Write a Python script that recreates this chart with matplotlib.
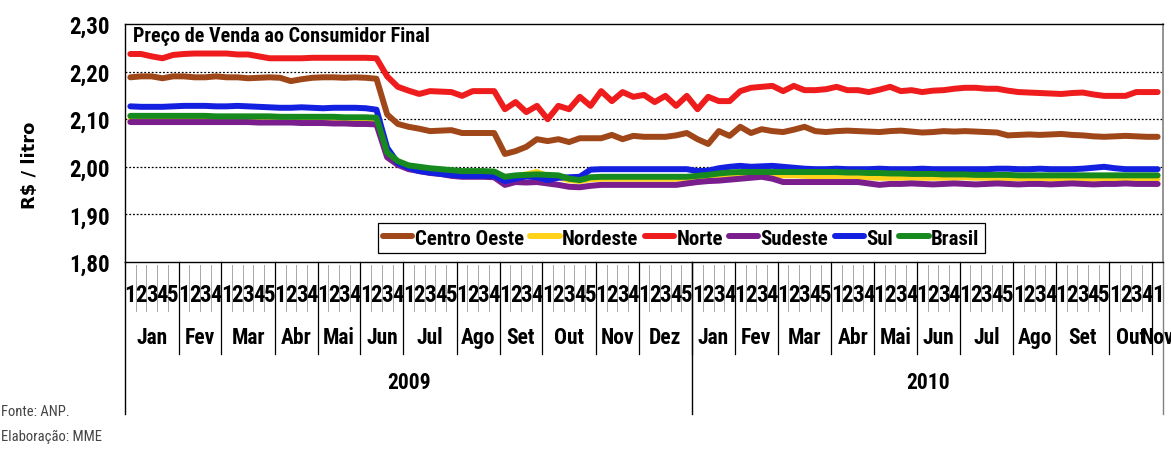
import matplotlib
matplotlib.use("Agg")
import matplotlib.pyplot as plt
import matplotlib.transforms as mtransforms
from matplotlib import font_manager as fm
import numpy as np

# ---------- pick a narrow font if one is installed ----------
_entries = fm.fontManager.ttflist
_names = {f.name for f in _entries}
_pref = ['Liberation Sans Narrow', 'Arial Narrow', 'Roboto Condensed', 'Noto Sans Condensed',
         'Open Sans Condensed', 'DejaVu Sans Condensed', 'Noto Sans Display Condensed']
NARROW_NAME = None
NARROW_STRETCH = 'normal'
for p in _pref:
    if p in _names:
        NARROW_NAME = p
        break
if NARROW_NAME is None:
    cands = [f.name for f in _entries if ('Narrow' in f.name or 'Condensed' in f.name)
             and 'Mono' not in f.name and 'Serif' not in f.name]
    if cands:
        NARROW_NAME = sorted(cands)[0]
if NARROW_NAME is None:
    for f in _entries:
        st = str(f.stretch).lower()
        if st in ('condensed', 'semi-condensed', 'extra-condensed') or st in ('500', '400', '300'):
            if 'Mono' in f.name or 'Serif' in f.name or 'CJK' in f.name:
                continue
            if str(f.weight).lower() in ('bold', '700'):
                NARROW_NAME = f.name
                NARROW_STRETCH = 'condensed'
                break
if NARROW_NAME is None:
    NARROW_NAME = 'Liberation Sans'
    SCALE = 0.85
else:
    SCALE = 1.0
NARROW = [NARROW_NAME, 'Liberation Sans', 'DejaVu Sans']


def fs(v):
    return v * SCALE


# ---------------- data ----------------
months_2009 = ['Jan', 'Fev', 'Mar', 'Abr', 'Mai', 'Jun', 'Jul', 'Ago', 'Set', 'Out', 'Nov', 'Dez']
weeks_2009 = [5, 4, 5, 4, 4, 4, 5, 4, 4, 5, 4, 5]
months_2010 = ['Jan', 'Fev', 'Mar', 'Abr', 'Mai', 'Jun', 'Jul', 'Ago', 'Set', 'Out', 'Nov']
weeks_2010 = [4, 4, 5, 4, 4, 4, 5, 4, 5, 4, 1]
years = ['2009', '2010']

centro_oeste = [2.188, 2.190, 2.190, 2.186, 2.190, 2.190, 2.188, 2.188, 2.190, 2.188,
                2.188, 2.186, 2.187, 2.188, 2.187, 2.180, 2.184, 2.187, 2.188, 2.188,
                2.187, 2.188, 2.187, 2.185, 2.110, 2.090, 2.084, 2.080, 2.075, 2.076,
                2.077, 2.071, 2.071, 2.071, 2.071, 2.027, 2.033, 2.042, 2.058, 2.054,
                2.058, 2.052, 2.060, 2.060, 2.060, 2.067, 2.058, 2.065, 2.063, 2.063,
                2.063, 2.066, 2.071, 2.058, 2.048, 2.075, 2.065, 2.084, 2.071, 2.079,
                2.075, 2.073, 2.078, 2.084, 2.075, 2.073, 2.075, 2.076, 2.075, 2.074,
                2.073, 2.075, 2.076, 2.074, 2.072, 2.073, 2.075, 2.074, 2.075, 2.074,
                2.073, 2.072, 2.066, 2.067, 2.068, 2.067, 2.068, 2.069, 2.067, 2.066,
                2.064, 2.063, 2.064, 2.065, 2.064, 2.063, 2.063]

nordeste = [2.099, 2.099, 2.099, 2.099, 2.099, 2.099, 2.099, 2.099, 2.099, 2.099,
            2.099, 2.099, 2.099, 2.098, 2.098, 2.098, 2.098, 2.098, 2.098, 2.097,
            2.097, 2.097, 2.097, 2.096, 2.025, 2.008, 2.000, 1.996, 1.993, 1.991,
            1.989, 1.987, 1.987, 1.987, 1.986, 1.977, 1.980, 1.984, 1.989, 1.980,
            1.978, 1.972, 1.970, 1.974, 1.975, 1.975, 1.975, 1.975, 1.975, 1.975,
            1.975, 1.975, 1.976, 1.977, 1.978, 1.980, 1.981, 1.982, 1.982, 1.982,
            1.982, 1.982, 1.982, 1.981, 1.980, 1.979, 1.979, 1.978, 1.978, 1.978,
            1.977, 1.977, 1.977, 1.977, 1.977, 1.977, 1.977, 1.977, 1.978, 1.977,
            1.977, 1.976, 1.976, 1.976, 1.976, 1.976, 1.975, 1.975, 1.975, 1.975,
            1.975, 1.975, 1.975, 1.975, 1.975, 1.975, 1.975]

norte = [2.237, 2.237, 2.232, 2.228, 2.235, 2.237, 2.238, 2.238, 2.238, 2.238,
         2.236, 2.236, 2.232, 2.228, 2.228, 2.228, 2.228, 2.229, 2.229, 2.229,
         2.229, 2.229, 2.229, 2.228, 2.190, 2.168, 2.160, 2.153, 2.159, 2.158,
         2.157, 2.149, 2.159, 2.159, 2.159, 2.121, 2.136, 2.115, 2.128, 2.100,
         2.128, 2.121, 2.147, 2.128, 2.159, 2.138, 2.157, 2.147, 2.151, 2.136,
         2.149, 2.128, 2.149, 2.121, 2.147, 2.138, 2.138, 2.159, 2.166, 2.168,
         2.170, 2.159, 2.170, 2.161, 2.161, 2.163, 2.168, 2.161, 2.161, 2.157,
         2.162, 2.168, 2.159, 2.161, 2.157, 2.160, 2.161, 2.164, 2.166, 2.166,
         2.164, 2.164, 2.160, 2.157, 2.156, 2.155, 2.154, 2.153, 2.155, 2.156,
         2.152, 2.149, 2.149, 2.149, 2.157, 2.157, 2.157]

sudeste = [2.094, 2.094, 2.094, 2.094, 2.094, 2.094, 2.094, 2.094, 2.094, 2.094,
           2.094, 2.094, 2.093, 2.093, 2.093, 2.093, 2.092, 2.092, 2.092, 2.091,
           2.091, 2.090, 2.090, 2.089, 2.020, 2.004, 1.995, 1.991, 1.987, 1.985,
           1.981, 1.979, 1.979, 1.979, 1.978, 1.962, 1.968, 1.967, 1.968, 1.965,
           1.962, 1.958, 1.957, 1.960, 1.962, 1.962, 1.962, 1.962, 1.962, 1.962,
           1.962, 1.962, 1.965, 1.968, 1.970, 1.971, 1.973, 1.975, 1.977, 1.979,
           1.975, 1.968, 1.968, 1.968, 1.968, 1.968, 1.968, 1.968, 1.968, 1.965,
           1.962, 1.964, 1.964, 1.965, 1.964, 1.963, 1.964, 1.965, 1.964, 1.963,
           1.964, 1.965, 1.964, 1.963, 1.964, 1.964, 1.963, 1.964, 1.965, 1.964,
           1.963, 1.964, 1.964, 1.965, 1.964, 1.964, 1.964]

sul = [2.127, 2.126, 2.126, 2.126, 2.127, 2.128, 2.128, 2.128, 2.127, 2.127,
       2.128, 2.127, 2.126, 2.125, 2.124, 2.124, 2.125, 2.124, 2.123, 2.124,
       2.124, 2.124, 2.123, 2.120, 2.040, 2.008, 1.998, 1.991, 1.988, 1.985,
       1.983, 1.981, 1.981, 1.981, 1.981, 1.970, 1.975, 1.980, 1.978, 1.972,
       1.977, 1.978, 1.979, 1.994, 1.995, 1.995, 1.995, 1.995, 1.995, 1.995,
       1.995, 1.995, 1.995, 1.991, 1.992, 1.997, 2.000, 2.002, 2.000, 2.001,
       2.002, 2.000, 1.998, 1.996, 1.995, 1.995, 1.996, 1.995, 1.995, 1.995,
       1.996, 1.995, 1.995, 1.995, 1.996, 1.995, 1.995, 1.995, 1.995, 1.995,
       1.995, 1.996, 1.996, 1.995, 1.995, 1.996, 1.995, 1.995, 1.995, 1.996,
       1.998, 2.000, 1.997, 1.995, 1.995, 1.995, 1.995]

brasil = [2.107, 2.107, 2.107, 2.107, 2.107, 2.107, 2.107, 2.107, 2.106, 2.106,
          2.106, 2.106, 2.106, 2.106, 2.105, 2.105, 2.105, 2.105, 2.105, 2.105,
          2.104, 2.104, 2.104, 2.103, 2.030, 2.012, 2.003, 2.000, 1.997, 1.995,
          1.993, 1.991, 1.991, 1.991, 1.990, 1.979, 1.982, 1.983, 1.984, 1.983,
          1.982, 1.975, 1.972, 1.978, 1.979, 1.979, 1.979, 1.979, 1.979, 1.979,
          1.979, 1.979, 1.979, 1.981, 1.983, 1.986, 1.988, 1.989, 1.989, 1.989,
          1.989, 1.989, 1.989, 1.989, 1.989, 1.989, 1.989, 1.988, 1.988, 1.987,
          1.987, 1.986, 1.986, 1.985, 1.985, 1.985, 1.984, 1.984, 1.984, 1.983,
          1.983, 1.983, 1.983, 1.982, 1.982, 1.982, 1.982, 1.982, 1.982, 1.982,
          1.982, 1.982, 1.982, 1.982, 1.982, 1.982, 1.982]

series_names = ['Centro Oeste', 'Nordeste', 'Norte', 'Sudeste', 'Sul', 'Brasil']
series_values = [centro_oeste, nordeste, norte, sudeste, sul, brasil]
series_colors = ['#A0471A', '#FFD21A', '#EE1C1C', '#7A1E8E', '#1420E0', '#168A1E']

yticks = [1.80, 1.90, 2.00, 2.10, 2.20, 2.30]

# ---------------- figure ----------------
fig = plt.figure(figsize=(11.71, 4.52), dpi=100)
ax = fig.add_axes([125 / 1171, 1 - 263 / 452, 1038 / 1171, 238 / 452])

TXT = dict(fontweight='bold', family=NARROW, fontstretch=NARROW_STRETCH)

n = len(norte)
x = np.arange(n)
handles = []
for name, vals, col in zip(series_names, series_values, series_colors):
    h, = ax.plot(x, vals, color=col, lw=4.3, solid_capstyle='round', label=name, zorder=3)
    handles.append(h)
handles[1].set_zorder(2.5)

ax.set_xlim(-0.5, n - 0.5)
ax.set_ylim(1.80, 2.30)
ax.set_yticks(yticks)
ax.set_yticklabels([f"{v:.2f}".replace('.', ',') for v in yticks], fontsize=fs(16.5), **TXT)
ax.tick_params(axis='y', length=0, pad=11)
ax.set_xticks([])
for yv in yticks[1:-1]:
    ax.axhline(yv, color='black', lw=0.9, ls=(0, (1.5, 1.5)), zorder=1)

for side in ['top', 'left', 'bottom']:
    ax.spines[side].set_color('black')
    ax.spines[side].set_linewidth(1.0)
ax.spines['right'].set_color('#808080')
ax.spines['right'].set_linewidth(1.2)

ax.text(0.008, 0.95, 'Preço de Venda ao Consumidor Final', transform=ax.transAxes,
        ha='left', va='center', fontsize=fs(14.5), **TXT)

leg = ax.legend(handles=handles, loc='center', bbox_to_anchor=(0.536, 0.10), ncol=6,
                frameon=True, fancybox=False, edgecolor='black', framealpha=1,
                handlelength=1.4, handletextpad=0.12, columnspacing=0.3,
                borderpad=0.25,
                prop=fm.FontProperties(family=NARROW, weight='bold', size=fs(15),
                                       stretch=NARROW_STRETCH))
leg.get_frame().set_linewidth(0.9)
for lh in leg.get_lines():
    lh.set_linewidth(4.3)

# ---------------- category axis (weeks / months / years) ----------------
trans = mtransforms.blended_transform_factory(ax.transData, ax.transAxes)


def yf(py):
    return (263 - py) / 238.0


y_week = yf(296)
y_month = yf(338)
y_year = yf(383)

all_months = months_2009 + months_2010
all_weeks = weeks_2009 + weeks_2010
start = 0
for m, w in zip(all_months, all_weeks):
    for k in range(w):
        ax.text(start + k, y_week, str(k + 1), transform=trans, ha='center', va='center',
                fontsize=fs(16.5), clip_on=False, **TXT)
        if k > 0:
            ax.plot([start + k - 0.5] * 2, [yf(266), yf(312)], transform=trans,
                    color='#a8a8a8', lw=0.7, clip_on=False)
    ax.text(start + (w - 1) / 2, y_month, m, transform=trans, ha='center', va='center',
            fontsize=fs(15.5), clip_on=False, **TXT)
    if start > 0:
        ax.plot([start - 0.5] * 2, [0, yf(355)], transform=trans,
                color='black', lw=0.9, clip_on=False)
    start += w

n09 = sum(weeks_2009)
n10 = sum(weeks_2010)
ax.text((n09 - 1) / 2, y_year, years[0], transform=trans, ha='center', va='center',
        fontsize=fs(15.5), clip_on=False, **TXT)
ax.text(n09 + (n10 - 1) / 2, y_year, years[1], transform=trans, ha='center', va='center',
        fontsize=fs(15.5), clip_on=False, **TXT)
for xb, col in [(-0.5, 'black'), (n09 - 0.5, 'black'), (n - 0.5, '#808080')]:
    ax.plot([xb] * 2, [0, yf(415)], transform=trans, color=col, lw=1.0, clip_on=False)

# ---------------- outer texts ----------------
fig.text(30 / 1171, 1 - 165 / 452, 'R$ / litro', rotation=90, ha='center', va='center',
         fontsize=13, fontweight='bold', family=['DejaVu Sans'])
fig.text(0.001, 1 - 412 / 452, 'Fonte: ANP.', ha='left', va='center', fontsize=fs(10.5),
         color='#444444', family=NARROW, fontstretch=NARROW_STRETCH)
fig.text(0.001, 1 - 437 / 452, 'Elaboração: MME', ha='left', va='center', fontsize=fs(10.5),
         color='#444444', family=NARROW, fontstretch=NARROW_STRETCH)

fig.savefig('out.png', dpi=100)
